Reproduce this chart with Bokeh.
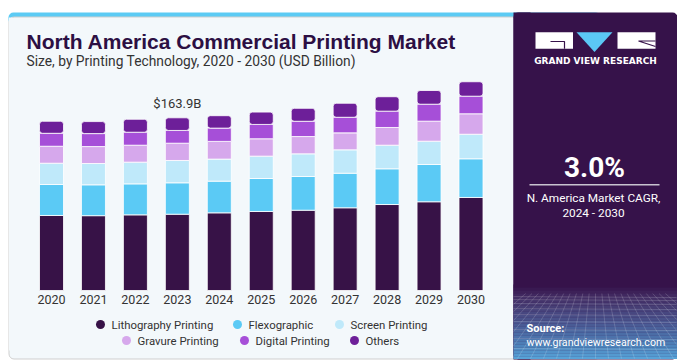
from bokeh.plotting import figure
from bokeh.models import Range1d, ColumnDataSource
from bokeh.core.properties import value
from bokeh.embed import file_html
from bokeh.resources import INLINE

# ---------------- data ----------------
years = [2020, 2021, 2022, 2023, 2024, 2025, 2026, 2027, 2028, 2029, 2030]
year_labels = [str(y) for y in years]
lithography = [71.2, 71.0, 71.8, 72.4, 73.7, 75.0, 76.2, 78.5, 81.6, 84.2, 88.3]
flexographic = [29.4, 29.3, 29.4, 29.8, 30.1, 31.3, 32.0, 32.8, 33.9, 35.4, 36.7]
screen = [20.2, 20.2, 20.6, 21.2, 20.9, 21.2, 21.5, 22.2, 22.4, 22.1, 23.3]
gravure = [16.1, 16.1, 16.1, 16.4, 16.8, 16.5, 16.4, 16.1, 16.8, 19.0, 19.4]
digital = [12.3, 12.3, 12.3, 12.1, 12.6, 13.6, 14.5, 14.8, 15.5, 16.1, 16.7]
others = [11.4, 11.4, 12.3, 12.0, 11.8, 11.7, 12.3, 13.3, 13.7, 13.0, 13.7]
series_names = ["Lithography Printing", "Flexographic", "Screen Printing",
                "Gravure Printing", "Digital Printing", "Others"]
series_keys = ["litho", "flexo", "screen", "gravure", "digital", "others"]
series_colors = ["#371247", "#5bcaf5", "#bfe9fa", "#d6a8ec", "#a64fd8", "#6d1f99"]
highlight_year = 2023

# ---------------- figure (page-pixel coordinates) ----------------
W, H = 677, 360
p = figure(width=W, height=H, x_range=Range1d(0, W), y_range=Range1d(H, 0),
           output_backend="svg", toolbar_location=None,
           x_axis_location=None, y_axis_location=None, min_border=0,
           outline_line_color=None, background_fill_color="white",
           border_fill_color="white")
p.grid.visible = False

# scales for the data
PX_YR, X0 = 41.95, 51.0     # px per year, page x of first year
PX_V, Y0 = 1.0537, 290.0    # px per billion, page y of zero
p.extra_x_ranges = {"yr": Range1d(years[0] - X0 / PX_YR, years[0] + (W - X0) / PX_YR)}
p.extra_y_ranges = {"val": Range1d(-(H - Y0) / PX_V, Y0 / PX_V)}

TXT = "#333333"
FONT = value("Roboto")
RIGHT = 677

def txt(x, y, s, size, color=TXT, bold=False, align="left", font=FONT, **kw):
    p.text(x=x, y=y, text=s, text_font=font, text_font_style="bold" if bold else "normal",
           text_font_size=size, text_color=color, text_align=align, text_baseline="middle", **kw)

# ---------------- card ----------------
p.quad(left=8, right=600, top=12, bottom=24, fill_color="#5ccbf4", line_color=None, border_radius=5)
p.quad(left=8.5, right=600, top=16.5, bottom=358.5, fill_color="#f3f8fb",
       line_color="#cfcfcf", line_width=1, border_radius=5)
p.quad(left=8.5, right=12, top=17, bottom=350, fill_color="#f3f8fb", line_color=None)

# right panel
p.quad(left=513, right=RIGHT, top=12, bottom=359, fill_color="#36124a", line_color=None, border_radius=5)
p.quad(left=513, right=530, top=12, bottom=359, fill_color="#36124a", line_color=None)

# gradient texture at bottom of panel
stops = [(284, (54, 18, 74)), (296, (68, 48, 102)), (320, (74, 86, 144)),
         (345, (78, 134, 190)), (359, (90, 170, 222))]
for y in range(284, 359, 3):
    for (ya, ca), (yb, cb) in zip(stops[:-1], stops[1:]):
        if ya <= y <= yb:
            t = (y - ya) / (yb - ya)
            c = tuple(int(ca[i] + (cb[i] - ca[i]) * t) for i in range(3))
            break
    p.quad(left=513, right=RIGHT - 0.5, top=y, bottom=min(y + 3.2, 358.5),
           fill_color="#%02x%02x%02x" % c, line_color=None)
for hy in [296, 299, 303, 308, 314, 321, 329, 338, 348]:
    p.line(x=[513, RIGHT - 1], y=[hy, hy + 1], line_color="white", line_alpha=0.16, line_width=1)
vx, vy = 595, 230
for k in range(-11, 12):
    xb = vx + k * 13
    xt = vx + k * 13 * (293 - vy) / (359 - vy)
    if xt < 513 or xt > RIGHT - 1:
        continue
    xs_, ys_ = [xt, xb], [293, 358]
    for edge in (513, RIGHT - 1):
        if (xb < edge < xt) or (xt < edge < xb):
            t = (edge - xt) / (xb - xt)
            xs_[1], ys_[1] = edge, 293 + t * (358 - 293)
    p.line(x=xs_, y=ys_, line_color="white", line_alpha=0.16, line_width=1)

# ---------------- logo ----------------
p.quad(left=535, right=572.5, top=31.7, bottom=48.3, fill_color="white", line_color=None)
p.line(x=[550, 564, 564], y=[41, 41, 48.3], line_color="#36124a", line_width=1.2)
p.patch(x=[576, 612, 594], y=[31.7, 31.7, 51.5], fill_color="#5bc8f5", line_color=None)
p.quad(left=617, right=655, top=31.7, bottom=48.3, fill_color="white", line_color=None)
p.line(x=[655, 638, 655], y=[40.5, 40.5, 46], line_color="#36124a", line_width=1.2)
txt([595], [60], ["GRAND VIEW RESEARCH"], "9px", color="white", bold=True, align="center",
    font=value("DejaVu Sans"))

# ---------------- panel texts ----------------
txt([594], [166.5], ["3.0%"], "28px", color="white", bold=True, align="center")
p.line(x=[529, 659], y=[184.3, 184.3], line_color="#c9c3d0", line_width=1.5)
txt([593, 593], [197.5, 212.5], ["N. America Market CAGR,", "2024 - 2030"], "11.8px",
    color="white", align="center")
txt([526], [327.5], ["Source:"], "11px", color="white", bold=True)
txt([526], [341.5], ["www.grandviewresearch.com"], "10.6px", color="white")

# ---------------- title ----------------
txt([26], [40.5], ["North America Commercial Printing Market"], "21px", color="#2c0f43", bold=True,
    font=value("Liberation Sans"))
txt([26], [60], ["Size, by Printing Technology, 2020 - 2030 (USD Billion)"], "13.8px")

# ---------------- bars ----------------
data = dict(year=years, label=year_labels, litho=lithography, flexo=flexographic, screen=screen,
            gravure=gravure, digital=digital, others=others)
src = ColumnDataSource(data)
rs = p.vbar_stack(series_keys, x="year", width=24 / PX_YR, color=series_colors, source=src,
                  x_range_name="yr", y_range_name="val", line_color="white", line_width=1, line_alpha=0.8)
rs[-1].glyph.border_radius = 3

# year labels
txt("year", 0, "label", "12.5px", align="center", source=src, x_range_name="yr",
    y_range_name="val", y_offset=9)

# total label
i = years.index(highlight_year)
total = sum(s[i] for s in [lithography, flexographic, screen, gravure, digital, others])
txt([highlight_year], [total], ["$%.1fB" % total], "13px", align="center",
    x_range_name="yr", y_range_name="val", y_offset=-14.3)

# ---------------- legend ----------------
leg_x = [100, 237, 339, 126, 244, 354]
leg_y = [324, 324, 324, 340, 340, 340]
p.scatter(x=leg_x, y=leg_y, size=9, color=series_colors, line_color=None)
txt([x + 11 for x in leg_x], leg_y, series_names, "11.4px")

open("out.html", "w").write(file_html(p, INLINE))
